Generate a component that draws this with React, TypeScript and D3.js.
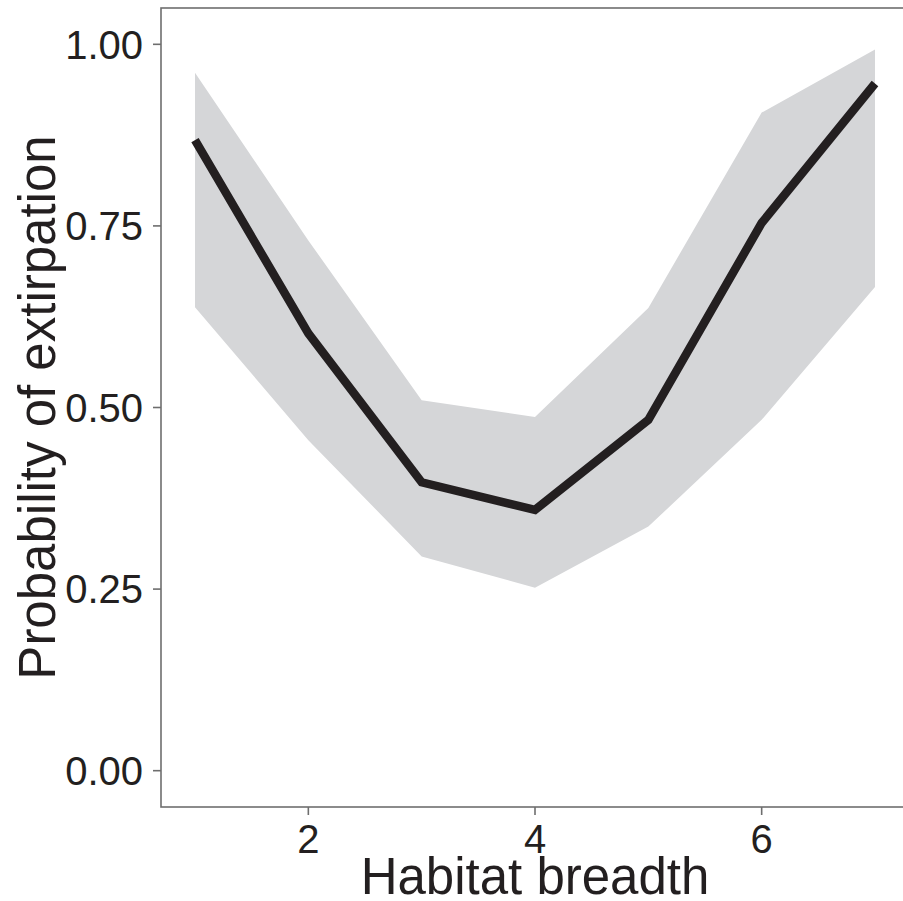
import React from "react";
import * as d3 from "d3";

const habitatBreadth = [1, 2, 3, 4, 5, 6, 7];
const meanProb = [0.868, 0.602, 0.397, 0.359, 0.483, 0.754, 0.946];
const upperProb = [0.961, 0.73, 0.51, 0.487, 0.637, 0.906, 0.993];
const lowerProb = [0.638, 0.455, 0.295, 0.252, 0.336, 0.483, 0.666];
const xTicks = [2, 4, 6];
const yTicks = [0, 0.25, 0.5, 0.75, 1.0];

const W = 903;
const H = 901;
const panel = { left: 161, right: 909, top: 8, bottom: 807 };

export default function App() {
  const x = d3.scaleLinear().domain([0.7, 7.3]).range([panel.left, panel.right]);
  const y = d3.scaleLinear().domain([-0.05, 1.05]).range([panel.bottom, panel.top]);

  const rows = habitatBreadth.map((h, i) => ({ h, m: meanProb[i], lo: lowerProb[i], hi: upperProb[i] }));
  const area = d3
    .area<any>()
    .x((d) => x(d.h))
    .y0((d) => y(d.lo))
    .y1((d) => y(d.hi));
  const line = d3
    .line<any>()
    .x((d) => x(d.h))
    .y((d) => y(d.m));

  const font = "'Liberation Sans', Arial, Helvetica, sans-serif";
  const textCol = "#231f20";
  const axisCol = "#6e6e6e";

  return (
    <svg
      width={W}
      height={H}
      style={{ position: "absolute", left: 0, top: 0, background: "#fff" }}
      fontFamily={font}
    >
      <rect x={0} y={0} width={W} height={H} fill="#fff" />
      <path d={area(rows) || ""} fill="#d5d6d8" />
      <path
        d={line(rows) || ""}
        fill="none"
        stroke={textCol}
        strokeWidth={8.5}
        strokeLinejoin="miter"
      />
      <rect
        x={panel.left}
        y={panel.top}
        width={panel.right - panel.left}
        height={panel.bottom - panel.top}
        fill="none"
        stroke={axisCol}
        strokeWidth={1.6}
      />
      {yTicks.map((t) => (
        <g key={"y" + t}>
          <line x1={panel.left - 8} x2={panel.left} y1={y(t)} y2={y(t)} stroke={axisCol} strokeWidth={1.6} />
          <text
            x={panel.left - 18}
            y={y(t)}
            dy="0.36em"
            textAnchor="end"
            fontSize={40}
            fill={textCol}
          >
            {t.toFixed(2)}
          </text>
        </g>
      ))}
      {xTicks.map((t) => (
        <g key={"x" + t}>
          <line x1={x(t)} x2={x(t)} y1={panel.bottom} y2={panel.bottom + 8} stroke={axisCol} strokeWidth={1.6} />
          <text x={x(t)} y={853} textAnchor="middle" fontSize={40} fill={textCol}>
            {t}
          </text>
        </g>
      ))}
      <text
        x={(panel.left + panel.right) / 2}
        y={894}
        textAnchor="middle"
        fontSize={51}
        fill={textCol}
      >
        Habitat breadth
      </text>
      <text
        transform={`translate(55, ${(panel.top + panel.bottom) / 2}) rotate(-90)`}
        textAnchor="middle"
        fontSize={51}
        fill={textCol}
      >
        Probability of extirpation
      </text>
    </svg>
  );
}
